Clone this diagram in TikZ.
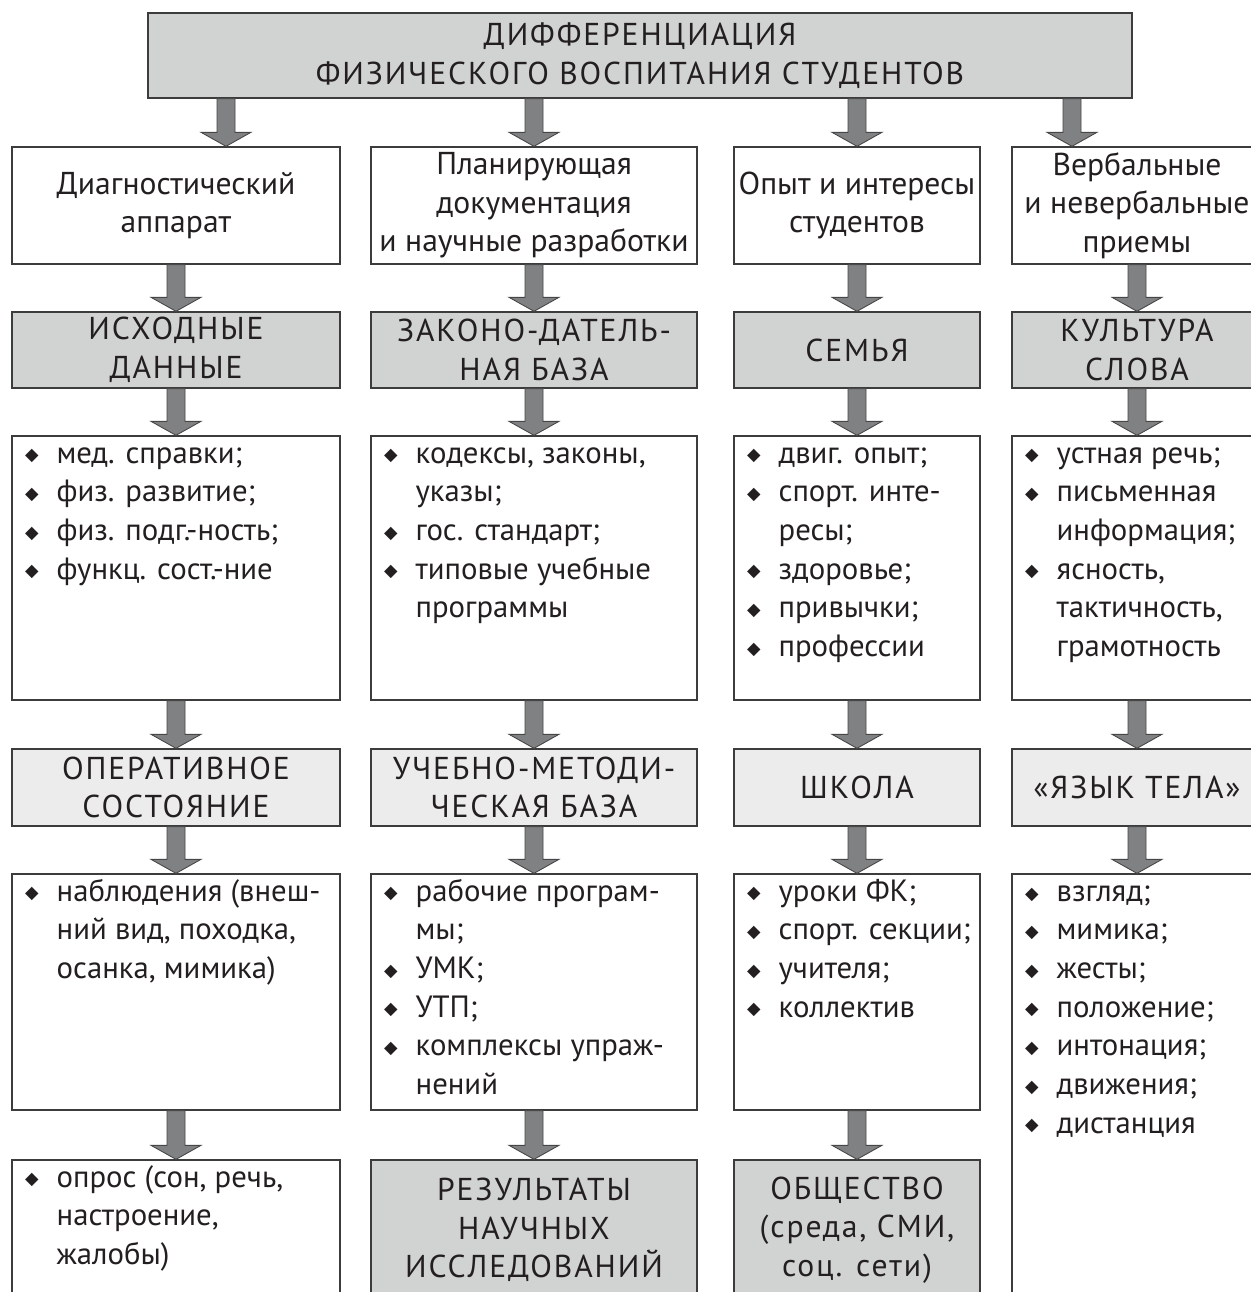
\documentclass[tikz,border=0pt]{standalone}
\usepackage{fontspec}
\setmainfont{PT Sans}
\newfontfamily\symfont{DejaVu Sans}
\usepackage{tikz}
\usetikzlibrary{calc}
\definecolor{lineGray}{RGB}{60,60,60}
\definecolor{textGray}{RGB}{35,31,32}
\definecolor{fillDark}{RGB}{209,211,210}
\definecolor{fillLight}{RGB}{236,236,236}
\definecolor{arrowFill}{RGB}{128,129,131}
\definecolor{arrowEdge}{RGB}{70,70,70}

\newcommand{\bul}{{\symfont\fontsize{10}{10}\selectfont\raisebox{0.12em}{◆}}}
\newcommand{\itm}{\par\hangindent=18pt\hangafter=1\noindent\makebox[18pt][l]{\bul}\strut}
\newcommand{\lbox}[3]{\parbox[t][#2][t]{#1}{#3}}

\begin{document}
\begin{tikzpicture}[x=0.02cm, y=-0.02cm,
    head/.style={draw=lineGray, line width=0.8pt, inner sep=0pt, align=center, text=textGray, font=\fontsize{18}{22}\selectfont},
    caps/.style={font=\fontsize{18}{22}\selectfont\addfontfeatures{LetterSpace=6}},
    plain/.style={head, fill=white},
    dark/.style={head, caps, fill=fillDark},
    light/.style={head, caps, fill=fillLight},
    listbox/.style={draw=lineGray, line width=0.8pt, fill=white, inner xsep=0.26cm, inner ysep=0pt, text=textGray, font=\fontsize{17.5}{22}\selectfont},
    col1/.style={minimum width=6.56cm}, col2/.style={minimum width=6.52cm},
    col3/.style={minimum width=4.92cm}, col4/.style={minimum width=5cm},
    r1/.style={minimum height=2.34cm}, r2/.style={minimum height=1.52cm},
    r4/.style={minimum height=1.54cm}, r6/.style={minimum height=2.8cm},
    fatarrow/.style={fill=arrowFill, draw=arrowEdge, line width=0.5pt,
        to path={($(\tikztostart)+(-9,0)$) -- ($(\tikztotarget)+(-9,-14)$) -- ($(\tikztotarget)+(-25,-14)$) -- (\tikztotarget)
            -- ($(\tikztotarget)+(25,-14)$) -- ($(\tikztotarget)+(9,-14)$) -- ($(\tikztostart)+(9,0)$) -- cycle}}
]
    \useasboundingbox (0,0) rectangle (1251,1292);
    \clip (0,0) rectangle (1251,1292);

    \node[dark, minimum width=19.68cm, minimum height=1.7cm] (top) at (640,55.5)
        {ДИФФЕРЕНЦИАЦИЯ\\ФИЗИЧЕСКОГО ВОСПИТАНИЯ СТУДЕНТОВ};

    % first row
    \node[plain, col1, r1] (c1r1) at (176,205.5) {Диагностический\\аппарат};
    \node[plain, col2, r1] (c2r1) at (534,205.5) {Планирующая\\документация\\и научные разработки};
    \node[plain, col3, r1] (c3r1) at (857,205.5) {Опыт и интересы\\студентов};
    \node[plain, col4, r1] (c4r1) at (1137,205.5) {Вербальные\\и невербальные\\приемы};

    \node[dark, col1, r2] (c1r2) at (176,350) {ИСХОДНЫЕ\\ДАННЫЕ};
    \node[dark, col2, r2] (c2r2) at (534,350) {ЗАКОНО-ДАТЕЛЬ-\\НАЯ БАЗА};
    \node[dark, col3, r2] (c3r2) at (857,350) {СЕМЬЯ};
    \node[dark, col4, r2] (c4r2) at (1137,350) {КУЛЬТУРА\\СЛОВА};

    \node[listbox] (c1r3) at (176,568) {\lbox{6.04cm}{5.28cm}{%
        \itm мед. справки; \itm физ. развитие; \itm физ. подг.-ность; \itm функц. сост.-ние}};
    \node[listbox] (c2r3) at (534,568) {\lbox{6cm}{5.28cm}{%
        \itm кодексы, законы,\\указы; \itm гос. стандарт; \itm типовые учебные\\программы}};
    \node[listbox] (c3r3) at (857,568) {\lbox{4.4cm}{5.28cm}{%
        \itm двиг. опыт; \itm спорт. инте-\\ресы; \itm здоровье; \itm привычки; \itm профессии}};
    \node[listbox] (c4r3) at (1137,568) {\lbox{4.48cm}{5.28cm}{%
        \itm устная речь; \itm письменная\\информация; \itm ясность,\\тактичность,\\грамотность}};

    \node[light, col1, r4] (c1r4) at (176,787.5) {ОПЕРАТИВНОЕ\\СОСТОЯНИЕ};
    \node[light, col2, r4] (c2r4) at (534,787.5) {УЧЕБНО-МЕТОДИ-\\ЧЕСКАЯ БАЗА};
    \node[light, col3, r4] (c3r4) at (857,787.5) {ШКОЛА};
    \node[light, col4, r4] (c4r4) at (1137,787.5) {«ЯЗЫК ТЕЛА»};

    \node[listbox] (c1r5) at (176,992) {\lbox{6.04cm}{4.72cm}{%
        \itm наблюдения (внеш-\\ний вид, походка,\\осанка, мимика)}};
    \node[listbox] (c2r5) at (534,992) {\lbox{6cm}{4.72cm}{%
        \itm рабочие програм-\\мы; \itm УМК; \itm УТП; \itm комплексы упраж-\\нений}};
    \node[listbox] (c3r5) at (857,992) {\lbox{4.4cm}{4.72cm}{%
        \itm уроки ФК; \itm \mbox{спорт. секции;} \itm учителя; \itm коллектив}};
    \node[listbox] (c4r5) at (1137,1102) {\lbox{4.48cm}{9.12cm}{%
        \itm взгляд; \itm мимика; \itm жесты; \itm положение; \itm интонация; \itm движения; \itm дистанция}};

    \node[listbox] (c1r6) at (176,1245) {\lbox{6.04cm}{3.4cm}{%
        \itm опрос (сон, речь,\\настроение,\\жалобы)}};
    \node[dark, col2, r6] (c2r6) at (534,1230) {РЕЗУЛЬТАТЫ\\НАУЧНЫХ\\ИССЛЕДОВАНИЙ};
    \node[dark, col3, r6] (c3r6) at (857,1230) {ОБЩЕСТВО\\(среда, СМИ,\\соц. сети)};

    % arrows
    \coordinate (t1) at (226,0);
    \coordinate (t4) at (1072,0);
    \draw[fatarrow] (top.south -| t1) to (c1r1.north -| t1);
    \draw[fatarrow] (top.south -| c2r1.north) to (c2r1.north);
    \draw[fatarrow] (top.south -| c3r1.north) to (c3r1.north);
    \draw[fatarrow] (top.south -| t4) to (c4r1.north -| t4);
    \foreach \c in {1,2,3} {
        \draw[fatarrow] (c\c r1.south) to (c\c r2.north);
        \draw[fatarrow] (c\c r2.south) to (c\c r3.north);
        \draw[fatarrow] (c\c r3.south) to (c\c r4.north);
        \draw[fatarrow] (c\c r4.south) to (c\c r5.north);
        \draw[fatarrow] (c\c r5.south) to (c\c r6.north);
    }
    \draw[fatarrow] (c4r1.south) to (c4r2.north);
    \draw[fatarrow] (c4r2.south) to (c4r3.north);
    \draw[fatarrow] (c4r3.south) to (c4r4.north);
    \draw[fatarrow] (c4r4.south) to (c4r5.north);
\end{tikzpicture}
\end{document}
